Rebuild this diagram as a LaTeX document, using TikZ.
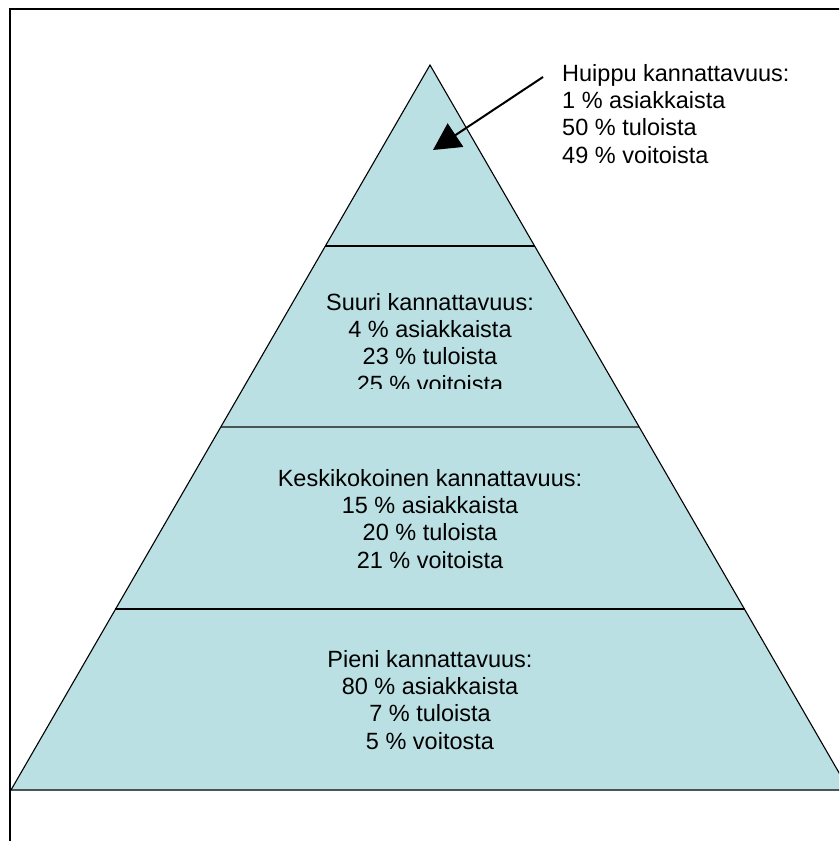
\documentclass[tikz,border=0pt]{standalone}
\usepackage{fontspec}
\setmainfont{Liberation Sans}
\usetikzlibrary{arrows.meta}
\definecolor{pyrfill}{HTML}{BBE0E3}
\definecolor{tierline}{HTML}{4A5656}
\tikzset{
  tiertext/.style={anchor=north, inner sep=0pt, align=center, font=\fontsize{23.5}{27.3}\selectfont},
  edge/.style={draw=black, line width=1.1pt},
  divider/.style={draw=black, line width=1.5pt},
  divgray/.style={draw=tierline, line width=2pt},
  frame/.style={draw=black, line width=2.4pt},
  pointer/.style={draw=black, line width=2pt, -{Triangle[length=27pt, width=28pt]}}
}
\begin{document}
\begin{tikzpicture}[x=1pt, y=-1pt]
\useasboundingbox (0,0) rectangle (839,841);
\clip (0,0) rectangle (839,841);
% frame
\draw[frame] (10,845) -- (10,9) -- (845,9);
% pyramid
\coordinate (apex) at (430,65);
\coordinate (bl) at (11,790);
\coordinate (br) at (849,790);
\fill[pyrfill] (apex) -- (bl) -- (br) -- cycle;
\draw[divider] (325,246) -- (535,246);
\draw[divgray] (221,427) -- (639,427);
\draw[divider] (115,609) -- (745,609);
\draw[divgray] (bl) -- (br);
\draw[edge] (bl) -- (apex) -- (br);
% texts
\begin{scope}
\clip (0,0) rectangle (839,388);
\node[tiertext] (suuri) at (430,293) {Suuri kannattavuus:\\4 \% asiakkaista\\23 \% tuloista\\25 \% voitoista};
\end{scope}
\node[tiertext] (keski) at (430,469) {Keskikokoinen kannattavuus:\\15 \% asiakkaista\\20 \% tuloista\\21 \% voitoista};
\node[tiertext] (pieni) at (430,650) {Pieni kannattavuus:\\80 \% asiakkaista\\7 \% tuloista\\5 \% voitosta};
\node[tiertext, anchor=north west, align=left] (huippu) at (562,64) {Huippu kannattavuus:\\1 \% asiakkaista\\50 \% tuloista\\49 \% voitoista};
% arrow
\coordinate (tail) at (543,77);
\coordinate (tip) at (433,150);
\draw[pointer] (tail) -- (tip);
\end{tikzpicture}
\end{document}
